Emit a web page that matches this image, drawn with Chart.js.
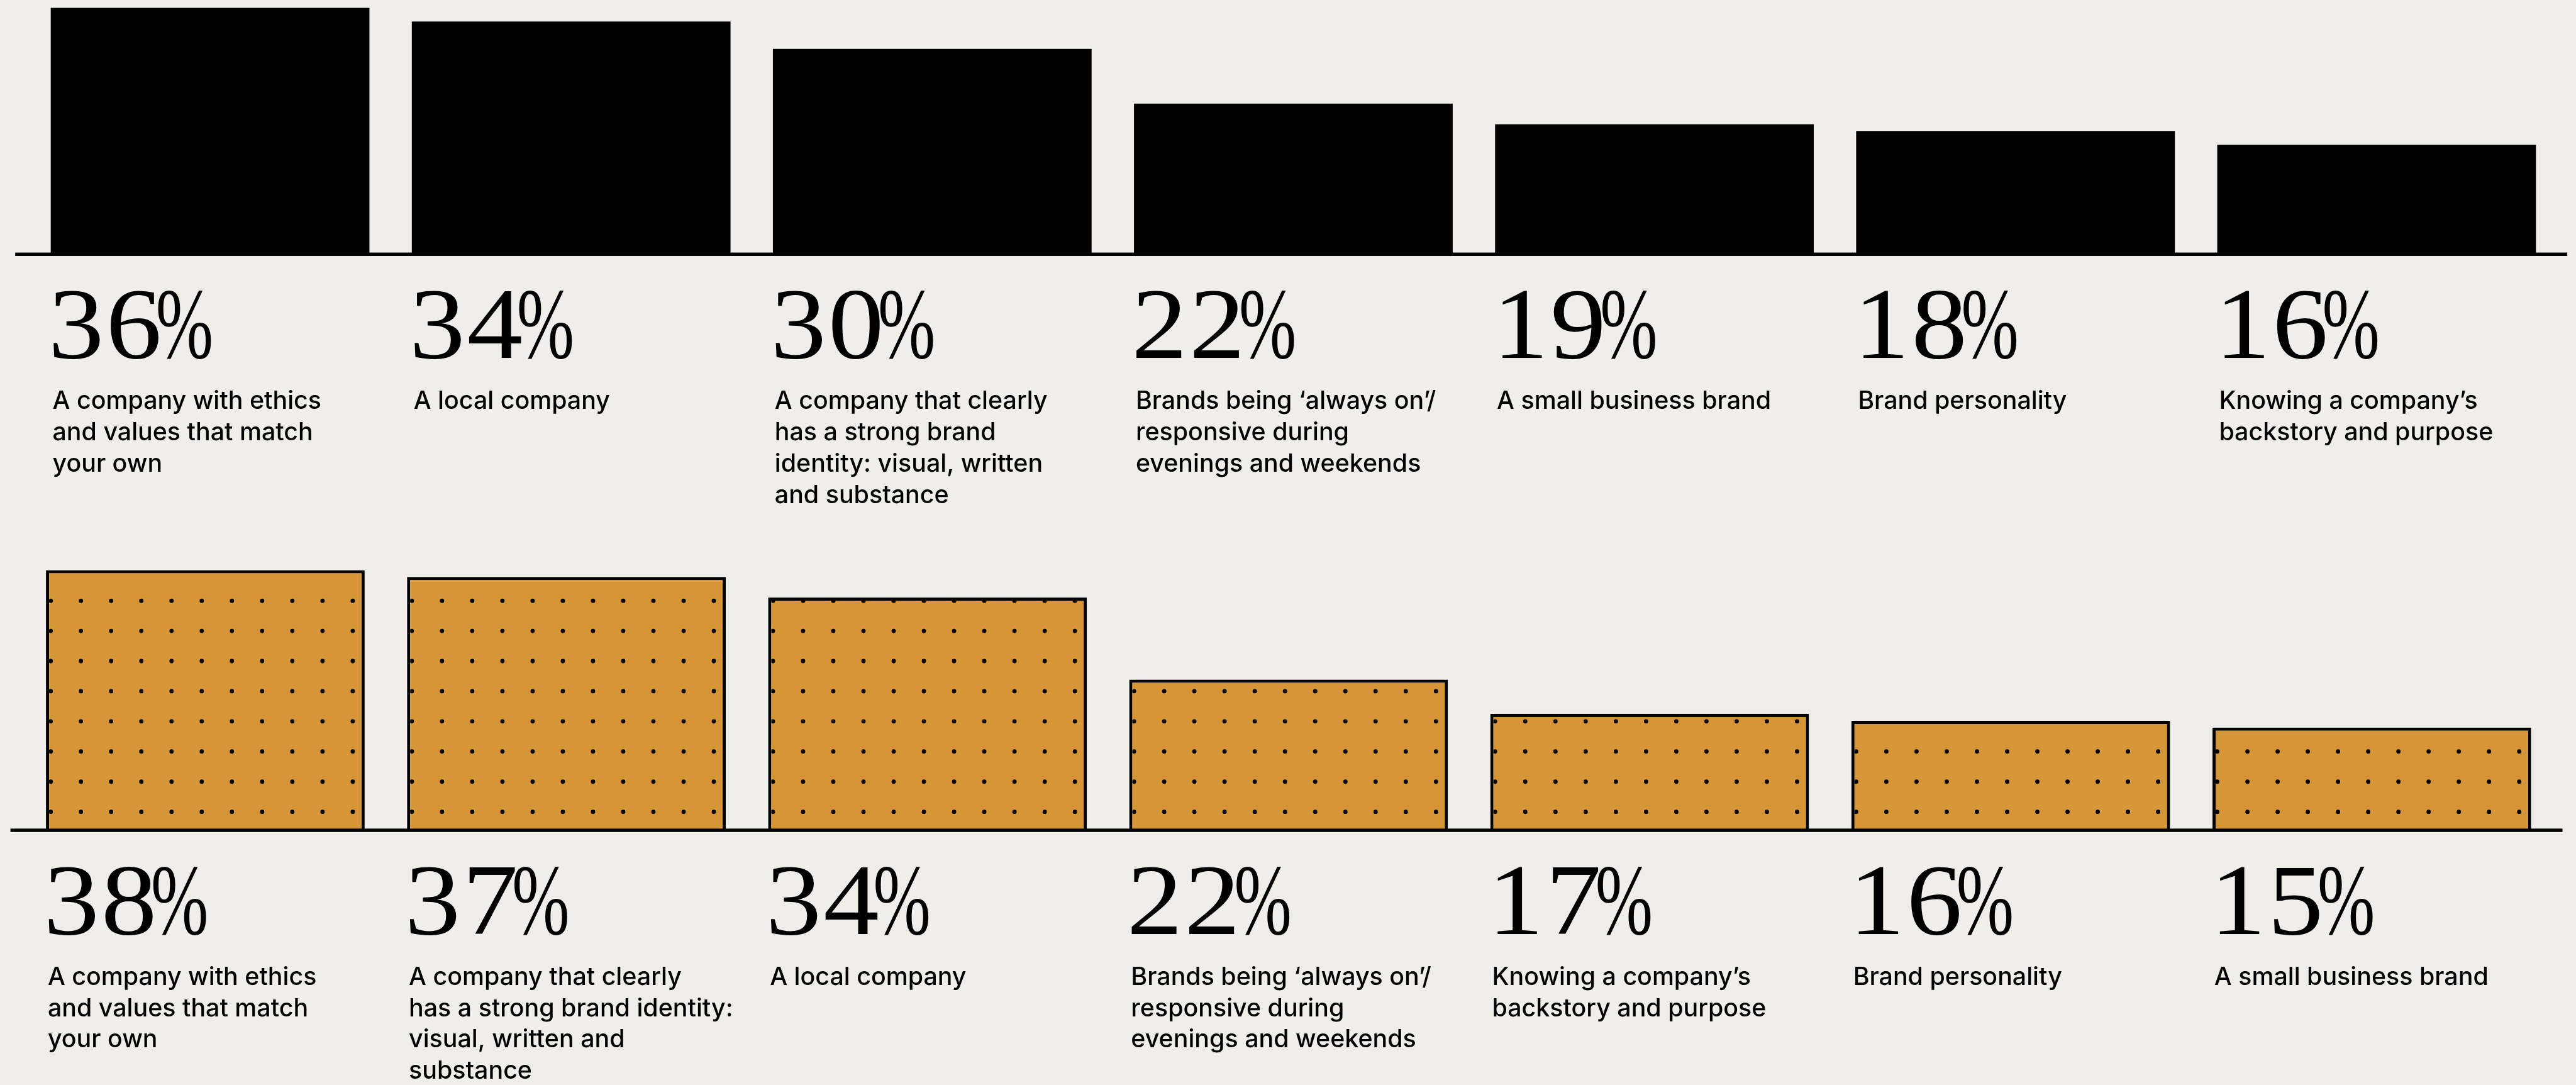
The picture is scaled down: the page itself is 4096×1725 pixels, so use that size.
<!DOCTYPE html>
<html>
<head>
<meta charset="utf-8">
<script src="https://cdn.jsdelivr.net/npm/chart.js@4.4.1/dist/chart.umd.min.js"></script>
<style>
  html, body { margin: 0; padding: 0; background: #efeeea; }
  body { width: 4096px; height: 1725px; position: relative; overflow: hidden; }
  canvas { position: absolute; left: 0; }
  #top-chart { top: 0; }
  #bottom-chart { top: 863px; }
</style>
</head>
<body>
<canvas id="top-chart" width="4096" height="863"></canvas>
<canvas id="bottom-chart" width="4096" height="862"></canvas>
<script>
// upper row: black bars
const topLabels = [
  ['A company with ethics', 'and values that match', 'your own'],
  ['A local company'],
  ['A company that clearly', 'has a strong brand', 'identity: visual, written', 'and substance'],
  ['Brands being \u2018always on\u2019/', 'responsive during', 'evenings and weekends'],
  ['A small business brand'],
  ['Brand personality'],
  ['Knowing a company\u2019s', 'backstory and purpose']
];
const topValues = [36, 34, 30, 22, 19, 18, 16];

// lower row: dotted orange bars
const bottomLabels = [
  ['A company with ethics', 'and values that match', 'your own'],
  ['A company that clearly', 'has a strong brand identity:', 'visual, written and', 'substance'],
  ['A local company'],
  ['Brands being \u2018always on\u2019/', 'responsive during', 'evenings and weekends'],
  ['Knowing a company\u2019s', 'backstory and purpose'],
  ['Brand personality'],
  ['A small business brand']
];
const bottomValues = [38, 37, 34, 22, 17, 16, 15];

const S = 0.949;                 // everything was laid out on a 4313px wide board
const PX_PER_POINT = 11.47 * S;  // bar height per percentage point
const INK = '#000000';
const ORANGE = '#d69638';

// big serif figure: slightly widened digits, narrow percent sign
function drawFigure(ctx, value, x, y) {
  const digitScale = 1.1;
  const track = 3 * S;
  ctx.save();
  ctx.font = `${170 * S}px "Liberation Serif"`;
  ctx.textBaseline = 'alphabetic';
  ctx.textAlign = 'left';
  let cx = x;
  for (const ch of String(value)) {
    ctx.save();
    ctx.translate(cx, y);
    ctx.scale(digitScale, 1);
    ctx.fillText(ch, 0, 0);
    ctx.restore();
    cx += ctx.measureText(ch).width * digitScale + track;
  }
  cx -= track + 10 * S;
  ctx.translate(cx, y);
  ctx.scale(0.68, 1);
  ctx.fillText('%', 0, 0);
  ctx.restore();
}

const panelDecor = {
  id: 'panelDecor',
  afterDatasetsDraw(chart, args, opts) {
    const ctx = chart.ctx;
    const area = chart.chartArea;
    const meta = chart.getDatasetMeta(0);
    const values = chart.data.datasets[0].data;
    const labels = chart.data.labels;

    // dot grid inside each bar
    if (opts.dots) {
      const bw = opts.borderWidth;
      meta.data.forEach(bar => {
        const { x, y, base, width } = bar.getProps(['x', 'y', 'base', 'width'], true);
        const left = x - width / 2;
        ctx.save();
        ctx.beginPath();
        ctx.rect(left + bw, y + bw, width - 2 * bw, base - y - bw);
        ctx.clip();
        ctx.fillStyle = INK;
        for (let cy = base - 31 * S; cy > y; cy -= 50.5 * S) {
          for (let cx = left + 8 * S; cx < left + width; cx += 50.6 * S) {
            ctx.beginPath();
            ctx.arc(cx, cy, 3.6 * S, 0, Math.PI * 2);
            ctx.fill();
          }
        }
        ctx.restore();
      });
    }

    ctx.save();
    ctx.fillStyle = INK;

    // baseline rule, a little wider than the plot
    const lw = 5.7 * S;
    ctx.fillRect(area.left - 24 * S, area.bottom - lw / 2,
      area.right - area.left + 41 * S, lw);

    meta.data.forEach((bar, i) => {
      const { x, width } = bar.getProps(['x', 'width'], true);
      const left = x - width / 2;

      drawFigure(ctx, values[i], left - 4 * S, area.bottom + 174 * S);

      ctx.font = `500 ${41.5 * S}px Inter`;
      ctx.textBaseline = 'alphabetic';
      ctx.textAlign = 'left';
      labels[i].forEach((line, j) => {
        ctx.fillText(line, left + 3 * S, area.bottom + (259 + 52.5 * j) * S);
      });
    });
    ctx.restore();
  }
};

function makePanel(canvasId, labels, values, cfg) {
  const canvas = document.getElementById(canvasId);
  const baseY = cfg.baseline;
  return new Chart(canvas, {
    type: 'bar',
    data: {
      labels: labels,
      datasets: [{
        data: values,
        backgroundColor: cfg.fill,
        borderColor: INK,
        borderWidth: cfg.border,
        borderSkipped: 'bottom',
        barPercentage: 1,
        categoryPercentage: 534 / 605
      }]
    },
    options: {
      responsive: false,
      animation: false,
      events: [],
      layout: {
        padding: {
          left: cfg.left,
          right: canvas.width - cfg.left - 7 * 605 * S,
          top: baseY - cfg.max * PX_PER_POINT,
          bottom: canvas.height - baseY
        }
      },
      plugins: {
        legend: { display: false },
        tooltip: { enabled: false },
        panelDecor: { dots: cfg.dots, borderWidth: cfg.border }
      },
      scales: {
        x: { display: false },
        y: { display: false, min: 0, max: cfg.max }
      }
    },
    plugins: [panelDecor]
  });
}

makePanel('top-chart', topLabels, topValues, {
  fill: INK, border: 0, dots: false, max: 37,
  left: 49.5 * S, baseline: 426 * S
});

makePanel('bottom-chart', bottomLabels, bottomValues, {
  fill: ORANGE, border: 5.3 * S, dots: true, max: 40,
  left: 41.5 * S, baseline: 1391 * S - 863
});
</script>
</body>
</html>
